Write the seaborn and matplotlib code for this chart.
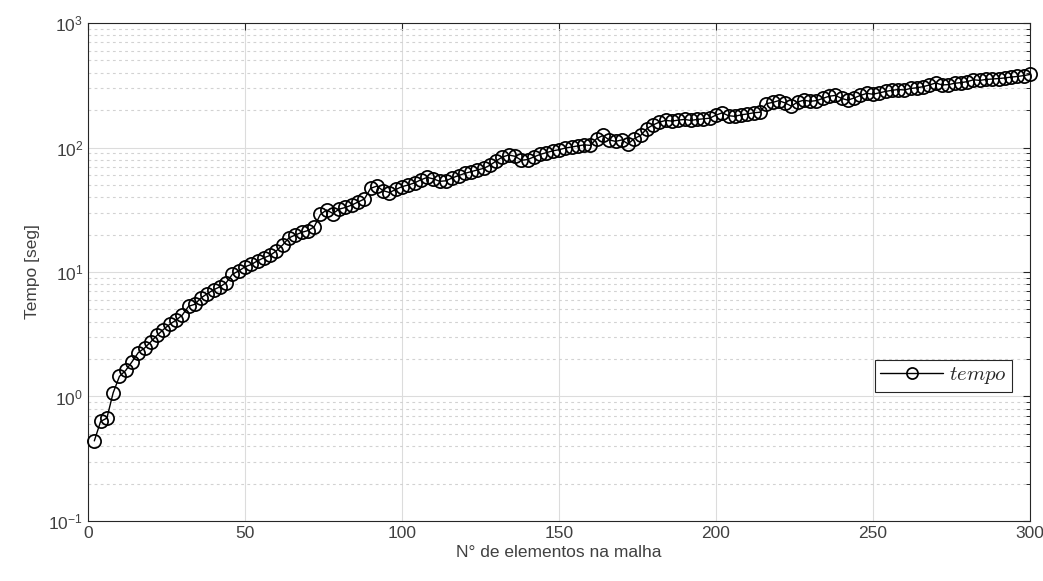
import numpy as np
import pandas as pd
import matplotlib
matplotlib.use("Agg")
import matplotlib.pyplot as plt
import seaborn as sns
from matplotlib.ticker import LogLocator, NullFormatter
from matplotlib.lines import Line2D

# Mesh size (number of elements) and computation time in seconds
n_elementos = list(range(2, 301, 2))
tempo = [
    0.44, 0.63, 0.67, 1.07, 1.45, 1.62, 1.90, 2.25, 2.45, 2.75,
    3.1, 3.45, 3.8, 4.1, 4.5, 5.3, 5.5, 6.2, 6.7, 7.2,
    7.6, 8.2, 9.6, 10.2, 11.0, 11.5, 12.3, 13.0, 13.6, 14.8,
    16.5, 18.8, 19.8, 20.8, 21.5, 23.0, 29.0, 31.5, 29.5, 32.0,
    33.0, 34.5, 36.5, 38.5, 47.0, 49.0, 45.0, 43.5, 46.0, 48.5,
    50.0, 52.0, 55.0, 57.5, 56.0, 53.5, 54.0, 57.0, 59.5, 62.0,
    64.0, 66.0, 68.0, 72.0, 78.0, 84.0, 87.0, 85.0, 79.0, 80.0,
    84.0, 88.0, 91.0, 94.0, 96.0, 99.0, 101.0, 103.0, 105.0, 104.0,
    118.0, 125.0, 115.0, 112.0, 115.0, 107.0, 118.0, 125.0, 142.0, 152.0,
    160.0, 165.0, 163.0, 166.0, 168.0, 165.0, 168.0, 170.0, 172.0, 182.0,
    190.0, 180.0, 178.0, 183.0, 186.0, 190.0, 192.0, 225.0, 230.0, 238.0,
    228.0, 215.0, 232.0, 240.0, 235.0, 238.0, 248.0, 258.0, 262.0, 248.0,
    240.0, 250.0, 262.0, 272.0, 268.0, 275.0, 282.0, 288.0, 292.0, 290.0,
    298.0, 302.0, 308.0, 318.0, 330.0, 318.0, 320.0, 328.0, 332.0, 338.0,
    350.0, 346.0, 352.0, 355.0, 358.0, 362.0, 368.0, 372.0, 378.0, 386.0,
]
x_ticks = [0, 50, 100, 150, 200, 250, 300]

df = pd.DataFrame({"n": n_elementos, "tempo": tempo})

sns.set_theme(style="white")
plt.rcParams["font.family"] = ["Liberation Sans", "DejaVu Sans"]
plt.rcParams["mathtext.fontset"] = "cm"

fig = plt.figure(figsize=(10.43, 5.81), dpi=100)
ax = fig.add_axes([0.0844, 0.1033, 0.9031, 0.8571])

sns.lineplot(
    data=df, x="n", y="tempo", ax=ax, color="black", linewidth=1.0,
    marker="o", markersize=9.5, markerfacecolor="none",
    markeredgecolor="black", markeredgewidth=1.25, legend=False,
    clip_on=False, zorder=3,
)

ax.set_yscale("log")
ax.set_xlim(0, 300)
ax.set_ylim(0.1, 1000)
ax.set_xticks(x_ticks)
ax.yaxis.set_major_locator(LogLocator(base=10, numticks=10))
ax.yaxis.set_minor_locator(LogLocator(base=10, subs=np.arange(2, 10), numticks=20))
ax.yaxis.set_minor_formatter(NullFormatter())

ax.grid(True, which="major", color="#dcdcdc", linewidth=0.8, linestyle="-")
ax.grid(True, which="minor", axis="y", color="#d2d2d2", linewidth=0.8,
        linestyle=(0, (2.5, 3)))
ax.set_axisbelow(True)

for s in ax.spines.values():
    s.set_color("#262626")
    s.set_linewidth(0.8)

ax.tick_params(which="both", direction="in", top=True, right=True,
               colors="#262626", labelcolor="#404040", labelsize=12.5)
ax.tick_params(which="major", length=5, width=0.8)
ax.tick_params(which="minor", length=3, width=0.7)

ax.set_xlabel("N° de elementos na malha", fontsize=12.5, color="#404040", labelpad=3)
ax.set_ylabel("Tempo [seg]", fontsize=12.5, color="#404040", labelpad=6)

handle = Line2D([], [], color="black", linewidth=1.0, marker="o",
                markersize=8, markerfacecolor="none", markeredgecolor="black",
                markeredgewidth=1.25)
leg = ax.legend([handle], [r"$tempo$"], loc="upper right",
                bbox_to_anchor=(0.981, 0.323), borderaxespad=0,
                fancybox=False, framealpha=1, edgecolor="#262626",
                fontsize=15, handlelength=3.0, borderpad=0.25,
                handletextpad=0.3)
leg.get_frame().set_linewidth(0.8)

fig.savefig("out.png", dpi=100, facecolor="white")
